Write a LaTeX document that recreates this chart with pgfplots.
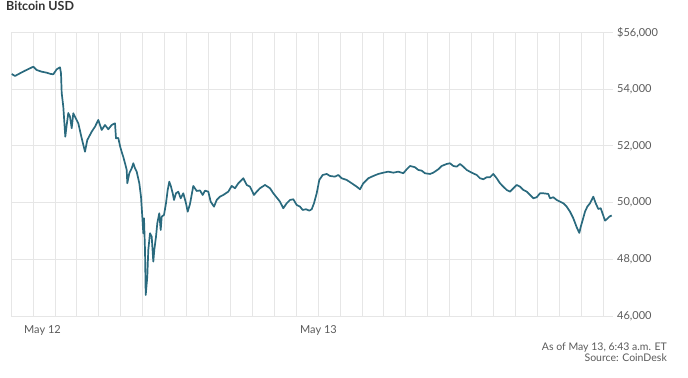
\documentclass[border=0pt]{standalone}
\usepackage{pgfplots}
\pgfplotsset{compat=1.18}
\usepackage{fontspec}
\setmainfont{Lato}
\definecolor{btc}{RGB}{42,106,126}
\definecolor{gridc}{RGB}{230,230,230}
\definecolor{lbl}{RGB}{90,90,90}
\definecolor{ttl}{RGB}{51,51,51}
\begin{document}
\begin{tikzpicture}
\path[use as bounding box] (0bp,0bp) rectangle (688bp,378bp);
\begin{axis}[
  at={(11bp,62bp)}, anchor=south west,
  scale only axis, width=602bp, height=283.7bp,
  xmin=11, xmax=613, ymin=46000, ymax=56000,
  scaled y ticks=false, scaled x ticks=false,
  axis line style={draw=none},
  major tick length=0pt, minor tick length=0pt,
  xtick={42.5,318.5}, xticklabels={May 12,May 13},
  minor xtick={11,32.9,54.9,76.8,98.7,120.6,142.6,164.5,186.4,208.4,230.3,252.2,274.2,296.1,318.0,339.9,361.9,383.8,405.7,427.7,449.6,471.5,493.4,515.4,537.3,559.2,581.2,603.1},
  xminorgrids, minor x grid style={gridc, line width=0.8bp},
  ytick={46000,48000,50000,52000,54000,56000},
  yticklabels={{46,000},{48,000},{50,000},{52,000},{54,000},{\$56,000}},
  ymajorgrids, major y grid style={gridc, line width=0.8bp},
  yticklabel pos=right,
  yticklabel style={anchor=west, inner sep=0pt, xshift=4bp, font=\fontsize{11bp}{13bp}\selectfont, text=lbl},
  xticklabel style={anchor=base, inner sep=0pt, yshift=-17bp, font=\fontsize{11bp}{13bp}\selectfont, text=lbl},
]
\addplot[btc, line width=1.7bp, line join=round] coordinates {
(11.7,54531)(15,54460)(20,54555)(25,54647)(30,54731)(33.3,54788)(36.7,54671)(41.7,54612)(46.7,54576)(50.7,54531)(53.3,54520)(56.7,54696)(60,54767)(61,54555)(61.7,53861)(63.3,53378)(65.3,52321)(66.7,52733)(68.3,53156)(70,53026)(71.7,52617)(73.3,53146)(75,53026)(78.3,52793)(81.7,52265)(85,51792)(87.3,52205)(91.7,52497)(95,52673)(98.3,52910)(101.7,52557)(105,52733)(108.3,52582)(111.7,52733)(115,52793)(116,52265)(118.3,52275)
(120,51993)(121.7,51782)(123.3,51606)(125,51384)(126.7,51148)(127.3,50679)(129.3,51031)(131.7,51207)(133.3,51384)(135,51207)(136.7,51088)(139.3,50679)(141,50207)(142.3,49502)(143.3,48917)(144,49445)(145,48328)(145.7,46740)(147.3,47387)(148.3,48328)(150,48917)(151.7,48797)(153.3,47916)(154.3,48328)(156,48797)(157.3,49269)(159.3,49622)(160.7,49033)(161.7,49502)(164,49562)(166,49974)(167.7,50443)(169.3,50735)(171,50559)(172.7,50326)(174,50090)(176,50326)(178.3,50383)(180.7,50150)(183.3,50326)(186,49974)(187.7,49678)
(190,49949)(193.3,50584)(196.7,50408)(200,50425)(202.7,50267)(205,50418)(208.3,50383)(210.7,50030)(214,49854)(216.7,50090)(220,50207)(223.3,50267)(228.3,50383)(231.7,50584)(235,50503)(238.3,50679)(243.3,50855)(246.7,50619)(250,50559)(254,50267)(256.7,50383)(260,50503)(265,50619)(270,50503)(273.3,50326)(277.3,50150)(280,50030)(283.3,49798)(286.7,49974)(290,50090)(293.3,50115)(296.7,49914)(300,49854)(302.7,49738)(306,49763)(309.3,49713)(311.7,49763)(314,49974)(316.7,50326)(319.3,50795)(322.7,50971)(326.7,51007)(330,50936)(335,50911)(338.3,50971)(341.7,50855)(346.7,50795)(351.7,50679)(356.7,50559)(360,50467)(363.3,50679)(368.3,50855)(373.3,50936)(378.3,51007)(383.3,51052)(388.3,51088)(393.3,51052)(398.3,51088)
(403.3,51031)(406.7,51172)(410,51289)(415,51243)(418.3,51148)(421.7,51123)(425,51031)(430,51007)(433.3,51052)(438.3,51172)(441.7,51289)(446.7,51359)(450,51384)(453.3,51289)(456.7,51264)(460,51359)(463.3,51264)(466.7,51148)(471.7,51052)(476.7,50971)(480,50855)(483.3,50820)(486.7,50890)(490,50890)(493.3,51007)(496.7,50855)(500,50679)(503.3,50559)(506.7,50443)(510,50383)(513.3,50503)(516.7,50619)(520,50559)(523.3,50443)(526.7,50383)(530,50267)(533.3,50150)(536.7,50185)(540,50326)(543.3,50326)(548.3,50302)(550,50150)(553.3,50185)(556.7,50090)(560,50030)(563.3,49974)(566.7,49854)(570,49678)(573.3,49445)(576.7,49128)(579.3,48927)(580.7,49138)(582.7,49385)(585,49678)(587.3,49854)(590,49974)(591.7,50090)(593.3,50207)(595.7,49974)(598.3,49773)(600.7,49798)(602.7,49597)(605,49361)(606.7,49410)(609.3,49502)(611.7,49544)
};
\end{axis}
\node[anchor=base west, inner sep=0pt, text=ttl, font=\fontsize{12.5bp}{14bp}\selectfont\bfseries] at (6bp,367.3bp) {Bitcoin USD};
\node[anchor=base east, inner sep=0pt, text=lbl, font=\fontsize{10.5bp}{12bp}\selectfont] at (667bp,27.3bp) {As of May 13, 6:43 a.m. ET};
\node[anchor=base east, inner sep=0pt, text=lbl, font=\fontsize{10.5bp}{12bp}\selectfont] at (667bp,16.3bp) {Source: CoinDesk};
\end{tikzpicture}
\end{document}
